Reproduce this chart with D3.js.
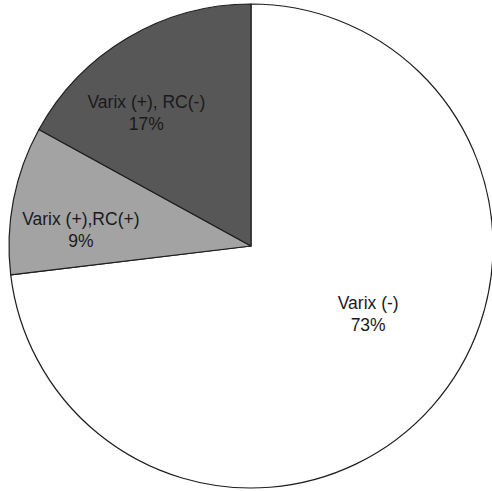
<!DOCTYPE html>
<html>
<head>
<meta charset="utf-8">
<script src="https://cdn.jsdelivr.net/npm/d3@7"></script>
<style>
  html, body { margin: 0; padding: 0; background: #fff; }
  svg { display: block; }
</style>
</head>
<body>
<svg id="chart" width="492" height="491"></svg>
<script>
// Data
const categories = ["Varix (-)", "Varix (+),RC(+)", "Varix (+), RC(-)"];
const values = [73.1, 9.9, 17];
const percentLabels = ["73%", "9%", "17%"];

// Styling (kept separate from data)
const colors = ["#ffffff", "#a3a3a3", "#575757"];
const labelPolar = [
  { r: 135, a: 119.8 },
  { r: 171, a: 275.7 },
  { r: 170, a: 322 }
];

const width = 492, height = 491;
const cx = 251, cy = 246, R = 242;

const svg = d3.select("#chart");
const g = svg.append("g").attr("transform", `translate(${cx},${cy})`);

const pie = d3.pie().sort(null).value(d => d.value);
const data = categories.map((c, i) => ({ name: c, value: values[i], pct: percentLabels[i], idx: i }));
const arcs = pie(data);
const arc = d3.arc().innerRadius(0).outerRadius(R);

g.selectAll("path.slice")
  .data(arcs)
  .join("path")
  .attr("class", "slice")
  .attr("d", arc)
  .attr("fill", d => colors[d.data.idx])
  .attr("stroke", "#1e1e1e")
  .attr("stroke-width", 1.2)
  .attr("stroke-linejoin", "round");

const labels = g.selectAll("g.label")
  .data(arcs)
  .join("g")
  .attr("class", "label")
  .attr("transform", d => {
    const p = labelPolar[d.data.idx];
    const a = p.a * Math.PI / 180;
    return `translate(${p.r * Math.sin(a)},${-p.r * Math.cos(a)})`;
  });

labels.append("text")
  .attr("text-anchor", "middle")
  .attr("y", -4)
  .attr("font-family", "Liberation Sans, Arial, sans-serif")
  .attr("font-size", 17.5)
  .attr("fill", "#1a1a1a")
  .text(d => d.data.name);

labels.append("text")
  .attr("text-anchor", "middle")
  .attr("y", 18)
  .attr("font-family", "Liberation Sans, Arial, sans-serif")
  .attr("font-size", 17.5)
  .attr("fill", "#1a1a1a")
  .text(d => d.data.pct);
</script>
</body>
</html>
